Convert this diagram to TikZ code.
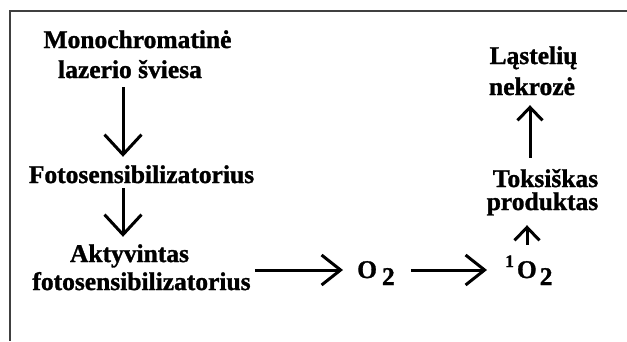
\documentclass[tikz,border=0pt]{standalone}
\usepackage{fontspec}
\setmainfont{Liberation Serif}[BoldFeatures={FakeBold=1.2}]
\usetikzlibrary{arrows.meta}
\begin{document}
\begin{tikzpicture}[x=1pt,y=-1pt,
  lbl/.style={font=\fontsize{25.5}{30}\selectfont\bfseries, inner sep=0pt, text height=18pt, text depth=5pt},
  vbig/.style={line width=3pt, -{Straight Barb[length=20pt,width=37pt]}},
  hbig/.style={line width=3pt, -{Straight Barb[length=19pt,width=30pt]}},
  vsmall/.style={line width=3pt, -{Straight Barb[length=13pt,width=25pt]}},
  frame/.style={line width=2pt, draw=black!75}]
\useasboundingbox (0,0) rectangle (627,341);
\fill[white] (0,0) rectangle (627,341);
\draw[frame] (627,10.5) -- (10,10.5) -- (10,341);

\node[lbl, anchor=base] (mono1) at (137.5,48) {Monochromatinė};
\node[lbl, anchor=base] (mono2) at (130,78) {lazerio šviesa};
\node[lbl, anchor=base] (foto) at (141.5,183) {Fotosensibilizatorius};
\node[lbl, anchor=base] (akt1) at (129.5,262) {Aktyvintas};
\node[lbl, anchor=base] (akt2) at (141.5,290) {fotosensibilizatorius};
\node[lbl, anchor=base west] (o2) at (357,278) {O\hspace{5pt}\raisebox{-7pt}{2}};
\node[lbl, anchor=base west] (so) at (505,278) {\raisebox{11pt}{\fontsize{17.5}{18}\selectfont 1}\hspace{3pt}O\hspace{3pt}\raisebox{-7pt}{2}};
\node[lbl, anchor=base] (toks) at (545.5,187) {Toksiškas};
\node[lbl, anchor=base] (prod) at (542.5,210) {produktas};
\node[lbl, anchor=base] (las) at (533.5,64) {Ląstelių};
\node[lbl, anchor=base] (nek) at (532,95) {nekrozė};

\coordinate (col1) at (123,0);
\coordinate (col2) at (527,0);
\coordinate (col3) at (530,0);
\coordinate (row) at (0,270);

\draw[vbig, shorten <=4pt, shorten >=8pt] (mono2.south -| col1) -- (foto.north -| col1);
\draw[vbig, shorten >=7pt] (foto.south -| col1) -- (akt1.north -| col1);
\draw[hbig, shorten <=4pt, shorten >=14pt] (akt2.east |- row) -- (o2.west |- row);
\draw[hbig, shorten <=16pt, shorten >=18pt] (o2.east |- row) -- (so.west |- row);
\draw[vsmall, shorten <=15pt, shorten >=10pt] (so.north -| col2) -- (prod.south -| col2);
\draw[vsmall, shorten <=11pt, shorten >=5pt] (toks.north -| col3) -- (nek.south -| col3);
\end{tikzpicture}
\end{document}
